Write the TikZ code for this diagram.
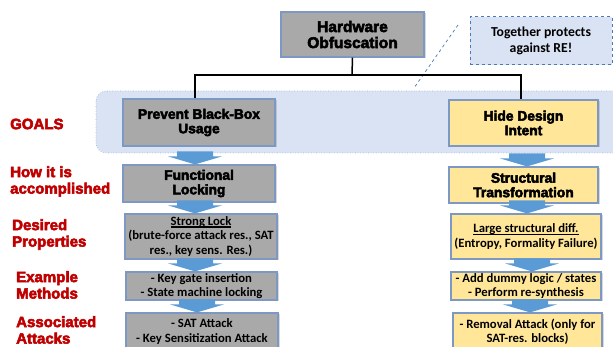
\documentclass[tikz,border=0pt]{standalone}
\usepackage{fontspec}
\setmainfont{Carlito}
\newfontfamily\heavyfont{Liberation Sans}[BoldFeatures={FakeBold=3.5}]
\usetikzlibrary{calc,shadows}
\definecolor{boxgray}{HTML}{A9A9A9}
\definecolor{boxedge}{HTML}{7E98C4}
\definecolor{boxyellow}{HTML}{FFE699}
\definecolor{arrowblue}{HTML}{5B9BD5}
\definecolor{bandfill}{HTML}{DAE3F3}
\definecolor{bandedge}{HTML}{9DB3D6}
\definecolor{labelred}{HTML}{C00000}
\definecolor{noteedge}{HTML}{4A78B8}
\newcommand\myul[1]{\setbox0=\hbox{#1}\rlap{\copy0}\rule[-2.2pt]{\wd0}{1.2pt}}
\newcommand\blockarr[2]{%
  \fill[arrowblue] let \p1=(#1.north) in
    (#2-18,\y1+13) -- (#2+18,\y1+13) -- (#2+18,\y1+8) -- (#2+27,\y1+8) --
    (#2,\y1) -- (#2-27,\y1+8) -- (#2-18,\y1+8) -- cycle;}
\tikzset{
  box/.style={draw=boxedge, line width=1.2pt, inner sep=0pt, align=center,
    drop shadow={shadow xshift=1.5pt, shadow yshift=-1.5pt, opacity=0.3}},
  graybox/.style={box, fill=boxgray},
  yellowbox/.style={box, fill=boxyellow},
  title/.style={font=\heavyfont\bfseries\fontsize{13.8}{14.5}\selectfont},
  bigtitle/.style={font=\heavyfont\bfseries\fontsize{15.5}{16}\selectfont},
  body/.style={font=\bfseries\fontsize{12.7}{14.5}\selectfont},
  glabel/.style={text=labelred, font=\heavyfont\bfseries\fontsize{15}{16.5}\selectfont,
    align=left, anchor=west, inner sep=0pt},
  conn/.style={draw=black, line width=1.5pt},
}
\begin{document}
\begin{tikzpicture}[x=1pt,y=1pt]
\clip (0,0) rectangle (613,-347);
\fill[white] (0,0) rectangle (613,-347);
% band
\draw[bandedge, dotted, line width=0.6pt, fill=bandfill, rounded corners=10pt]
  (96,-91) rectangle (630,-153);
% note
\node[draw=noteedge, dashed, line width=1pt, fill=bandfill, minimum width=142pt,
  minimum height=48pt, align=center, font=\fontsize{13.7}{16}\bfseries\selectfont] (note) at (541,-41)
  {Together protects\\against RE!};
\coordinate (d1) at (458,-25);
\coordinate (d2) at (414,-88);
\draw[noteedge, dashed, line width=0.7pt] (d1) -- (d2);
% labels
\node[glabel] (lg) at (10,-124) {GOALS};
\node[glabel] (lh) at (10,-181.5) {How it is\\accomplished};
\node[glabel] (ld) at (12,-234.5) {Desired\\Properties};
\node[glabel] (le) at (16,-285) {Example\\Methods};
\node[glabel] (la) at (16,-330) {Associated\\Attacks};
% connectors
\node[graybox, bigtitle, minimum width=143pt, minimum height=45pt] (hw) at (352.5,-34.5) {Hardware\\Obfuscation};
\coordinate (j) at (352,-75);
\coordinate (jl) at (195,-75);
\coordinate (jr) at (521,-75);
\draw[conn] (hw.south) -- (j);
\draw[conn] (jl |- 0,-99) -- (jl) -- (jr) -- (jr |- 0,-100);
% left column
\node[graybox, title, minimum width=152pt, minimum height=47pt] (goalL) at (199,-122.5) {Prevent Black-Box\\Usage};
\node[graybox, title, minimum width=152pt, minimum height=37pt] (funcL) at (199,-183.5) {Functional\\Locking};
\node[graybox, body, minimum width=152pt, minimum height=45pt] (propL) at (201,-236.5) {\myul{Strong Lock}\\(brute-force attack res., SAT\\res., key sens. Res.)};
\node[graybox, body, minimum width=151pt, minimum height=28pt] (methL) at (201.5,-286) {- Key gate insertion\\- State machine locking};
\node[graybox, body, minimum width=152pt, minimum height=37pt] (attL) at (202,-331.5) {- SAT Attack\\- Key Sensitization Attack};
% right column
\node[yellowbox, title, minimum width=149pt, minimum height=46pt] (goalR) at (523.5,-123) {Hide Design\\Intent};
\node[yellowbox, title, minimum width=149pt, minimum height=36pt] (structR) at (523.5,-185) {Structural\\Transformation};
\node[yellowbox, body, minimum width=150pt, minimum height=45pt] (propR) at (526,-236.5) {\myul{Large structural diff.}\\(Entropy, Formality Failure)};
\node[yellowbox, body, minimum width=150pt, minimum height=28pt] (methR) at (526,-286) {- Add dummy logic / states\\- Perform re-synthesis};
\node[yellowbox, body, minimum width=149pt, minimum height=37pt] (attR) at (527.5,-331.5) {- Removal Attack (only for\\SAT-res. blocks)};
% arrows
\blockarr{funcL}{195}
\blockarr{propL}{195}
\blockarr{methL}{195}
\blockarr{attL}{197}
\blockarr{structR}{527}
\blockarr{propR}{527}
\blockarr{methR}{532}
\blockarr{attR}{530}
\end{tikzpicture}
\end{document}
